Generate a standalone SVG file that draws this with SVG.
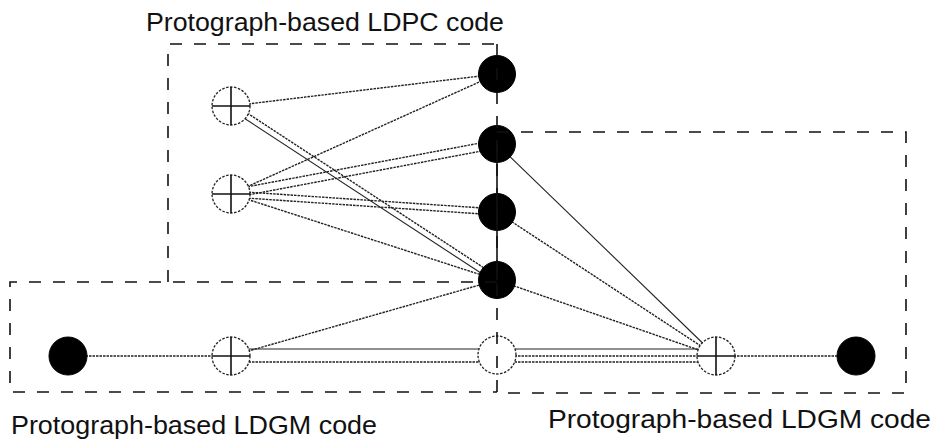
<svg xmlns="http://www.w3.org/2000/svg" width="938" height="446" viewBox="0 0 938 446">
<style>
.box{fill:none;stroke:#111;stroke-width:1.6;stroke-dasharray:12 12}
.e{stroke:#222;stroke-width:1.1;fill:none}
.d{stroke:#222;stroke-width:1.4;fill:none;stroke-dasharray:2.5 1}
.var{fill:#000;stroke:#000;stroke-width:1}
.chk{fill:#fff;stroke:#222;stroke-width:1.3;stroke-dasharray:2.5 1.5}
.x{stroke:#111;stroke-width:1.6}
.lbl{font-family:"Liberation Sans",Arial,sans-serif;font-size:25px;fill:#111}
</style>
<rect width="938" height="446" fill="#fff"/>
<g id="connectors">
  <line class="d" x1="231" y1="106" x2="497" y2="74"/>
  <line class="e" x1="229.4" y1="108.5" x2="495.4" y2="282.5"/>
  <line class="d" x1="232.6" y1="103.5" x2="498.6" y2="277.5"/>
  <line class="d" x1="231" y1="194" x2="497" y2="74"/>
  <line class="d" x1="230.3" y1="190" x2="496.3" y2="140"/>
  <line class="d" x1="231.7" y1="198" x2="497.7" y2="148"/>
  <line class="d" x1="231.2" y1="191" x2="497.2" y2="209"/>
  <line class="d" x1="230.8" y1="197" x2="496.8" y2="215"/>
  <line class="d" x1="231" y1="194" x2="497" y2="280"/>
  <line class="d" x1="231" y1="356" x2="497" y2="280"/>
  <line class="e" x1="231" y1="349" x2="497" y2="349"/>
  <line class="d" x1="231" y1="362" x2="497" y2="362"/>
  <line class="e" x1="497" y1="349" x2="716" y2="349"/>
  <line class="d" x1="497" y1="356" x2="716" y2="356"/>
  <line class="d" x1="497" y1="362" x2="716" y2="362"/>
  <line class="e" x1="497" y1="144" x2="716" y2="356"/>
  <line class="d" x1="497" y1="212" x2="716" y2="356"/>
  <line class="d" x1="497" y1="280" x2="716" y2="356"/>
  <line class="d" x1="68" y1="356" x2="231" y2="356"/>
  <line class="d" x1="716" y1="356" x2="856" y2="356"/>
</g>
<g id="n-c1"><circle class="chk" cx="231" cy="106" r="19"/><line class="x" x1="212" y1="106" x2="250" y2="106"/><line class="x" x1="231" y1="87" x2="231" y2="125"/></g>
<g id="n-c2"><circle class="chk" cx="231" cy="194" r="19"/><line class="x" x1="212" y1="194" x2="250" y2="194"/><line class="x" x1="231" y1="175" x2="231" y2="213"/></g>
<g id="n-c3"><circle class="chk" cx="231" cy="356" r="19"/><line class="x" x1="212" y1="356" x2="250" y2="356"/><line class="x" x1="231" y1="337" x2="231" y2="375"/></g>
<g id="n-c4"><circle class="chk" cx="716" cy="356" r="19"/><line class="x" x1="697" y1="356" x2="735" y2="356"/><line class="x" x1="716" y1="337" x2="716" y2="375"/></g>
<g id="n-w"><circle class="chk" cx="497" cy="355" r="19"/></g>
<g id="n-v1"><circle class="var" cx="497" cy="74" r="18.5"/></g>
<g id="n-v2"><circle class="var" cx="497" cy="144" r="18.5"/></g>
<g id="n-v3"><circle class="var" cx="497" cy="212" r="18.5"/></g>
<g id="n-v4"><circle class="var" cx="497" cy="280" r="18.5"/></g>
<g id="n-vl"><circle class="var" cx="68" cy="356" r="19"/></g>
<g id="n-vr"><circle class="var" cx="856" cy="356" r="19"/></g>
<g id="boxes">
  <path class="box" d="M168,282 V44 H497"/>
  <path class="box" d="M497,282 H10 V392 H497"/>
  <path class="box" d="M497,132 H906 V393 H497"/>
  <line class="box" x1="497" y1="44" x2="497" y2="396"/>
  <line stroke="#111" stroke-width="1.6" x1="497" y1="144" x2="497" y2="280"/>
</g>
<g id="labels">
  <text class="lbl" x="146" y="31" textLength="358" lengthAdjust="spacingAndGlyphs">Protograph-based LDPC code</text>
  <text class="lbl" x="11" y="434" textLength="366" lengthAdjust="spacingAndGlyphs">Protograph-based LDGM code</text>
  <text class="lbl" x="548" y="428" textLength="383" lengthAdjust="spacingAndGlyphs">Protograph-based LDGM code</text>
</g>
</svg>
